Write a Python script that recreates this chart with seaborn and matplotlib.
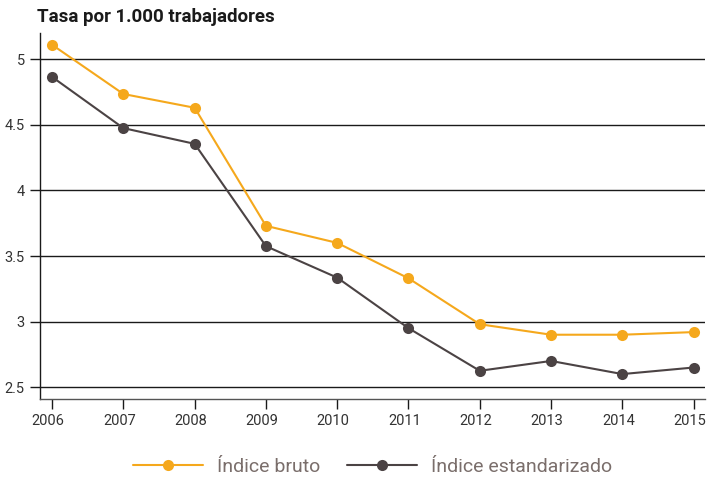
import matplotlib
matplotlib.use("Agg")
import matplotlib.pyplot as plt
import matplotlib.transforms as mtransforms
import seaborn as sns
import pandas as pd

years = [2006, 2007, 2008, 2009, 2010, 2011, 2012, 2013, 2014, 2015]
indice_bruto = [5.11, 4.735, 4.63, 3.73, 3.60, 3.33, 2.98, 2.90, 2.90, 2.92]
indice_estandarizado = [4.865, 4.475, 4.355, 3.575, 3.335, 2.95, 2.625, 2.70, 2.60, 2.65]
series_names = ["Índice bruto", "Índice estandarizado"]
yticks = [2.5, 3, 3.5, 4, 4.5, 5]
title = "Tasa por 1.000 trabajadores"

df = pd.DataFrame({
    "year": years * 2,
    "value": indice_bruto + indice_estandarizado,
    "serie": [series_names[0]] * len(years) + [series_names[1]] * len(years),
})

sns.set_style("white")
plt.rcParams["font.family"] = ["Roboto", "DejaVu Sans"]

fig = plt.figure(figsize=(7.07, 4.78), dpi=100)
ax = fig.add_axes([40/707, 1-399/478, 665/707, 366/478])

palette = {series_names[0]: "#F5A81C", series_names[1]: "#4B4344"}
sns.lineplot(data=df, x="year", y="value", hue="serie", palette=palette,
             marker="o", markersize=8, markeredgewidth=0, linewidth=1.5,
             ax=ax, legend=True)

ax.set_xlim(2005.83, 2015.16)
ax.set_ylim(2.41, 5.2)
ax.set_yticks(yticks)
ax.set_yticklabels([f"{t:g}" for t in yticks])
ax.set_xticks(years)
ax.set_xticklabels([str(y) for y in years])
for t in yticks:
    ax.axhline(t, color="#1a1a1a", linewidth=1, zorder=0)
ax.set_xlabel("")
ax.set_ylabel("")
for s in ["top", "right"]:
    ax.spines[s].set_visible(False)
ax.spines["left"].set_color("#1a1a1a")
ax.spines["left"].set_linewidth(1)
ax.spines["bottom"].set_color("#555555")
ax.spines["bottom"].set_linewidth(1)
ax.tick_params(axis="both", which="major", length=7, width=1, color="#1a1a1a",
               labelsize=10.5, labelcolor="#333333", pad=4, direction="out",
               left=True, bottom=True)

offset = mtransforms.ScaledTranslation(-4/100, 0, fig.dpi_scale_trans)
for lbl in ax.get_xticklabels():
    lbl.set_transform(lbl.get_transform() + offset)

fig.text(37/707, 1-17/478, title, fontsize=13.5, fontweight="bold",
         color="#1a1a1a", va="center", ha="left")

handles, labels = ax.get_legend_handles_labels()
ax.legend(handles, labels, loc="center", bbox_to_anchor=(0.5, -0.186),
          ncol=2, frameon=False, fontsize=14, labelcolor="#7a6e6b",
          handlelength=3.6, columnspacing=1.4, handletextpad=0.7)

fig.savefig("out.png", dpi=100)
